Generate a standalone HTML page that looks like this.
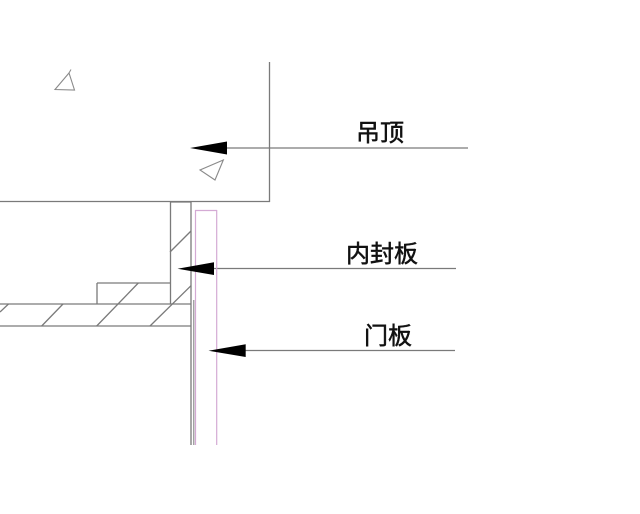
<!DOCTYPE html>
<html>
<head>
<meta charset="utf-8">
<style>
html,body{margin:0;padding:0;background:#fff;}
svg{display:block;}
text{font-family:"Liberation Sans","Noto Sans CJK SC",sans-serif;font-size:24px;fill:#111;stroke:#111;stroke-width:0.5;}
</style>
</head>
<body>
<svg width="640" height="514" viewBox="0 0 640 514" xmlns="http://www.w3.org/2000/svg">
<g stroke="#7a7a7a" stroke-width="1.3" fill="none">
  <!-- ceiling -->
  <line x1="269.5" y1="62" x2="269.5" y2="202"/>
  <line x1="0" y1="201.5" x2="270" y2="201.5"/>
  <!-- vertical box -->
  <line x1="170.5" y1="202" x2="170.5" y2="304"/>
  <line x1="170" y1="202" x2="191" y2="202"/>
  <line x1="191" y1="202" x2="191" y2="445"/>
  <line x1="193.8" y1="300" x2="193.8" y2="445" stroke-width="1"/>
  <!-- small rect -->
  <line x1="97" y1="283" x2="97" y2="304"/>
  <line x1="97" y1="283" x2="170" y2="283"/>
  <!-- slab -->
  <line x1="0" y1="304" x2="191" y2="304"/>
  <line x1="0" y1="326" x2="191" y2="326"/>
  <!-- hatches -->
  <line x1="170" y1="252" x2="191" y2="231"/>
  <line x1="0" y1="312" x2="8.5" y2="304"/>
  <line x1="41.7" y1="326" x2="63" y2="304"/>
  <line x1="96.7" y1="326" x2="138.3" y2="283"/>
  <line x1="150" y1="326" x2="191" y2="285.7"/>
  <!-- triangles -->
  <polygon points="69,73 55,89.5 74.5,90" stroke="#8a8a8a" stroke-width="1.1"/>
  <line x1="69" y1="73" x2="71" y2="69.5" stroke="#8a8a8a" stroke-width="1"/>
  <polygon points="223.3,160 200,170 215,180" stroke="#8a8a8a" stroke-width="1.1"/>
  <!-- leader lines -->
  <line x1="227" y1="148" x2="468" y2="148"/>
  <line x1="214" y1="268.5" x2="456" y2="268.5"/>
  <line x1="245" y1="350.5" x2="455" y2="350.5"/>
</g>
<!-- pink door panel -->
<g stroke="#d4aad4" stroke-width="1.2" fill="none">
  <line x1="195.5" y1="210" x2="195.5" y2="445"/>
  <line x1="195" y1="210.5" x2="217" y2="210.5"/>
  <line x1="216.7" y1="210" x2="216.7" y2="445"/>
</g>
<!-- arrowheads -->
<g fill="#000">
  <polygon points="190,148 227,141.5 227,154.5"/>
  <polygon points="177.5,268.7 214,262.3 214,275"/>
  <polygon points="208.5,350.7 245.7,344.3 245.7,357"/>
</g>
<!-- labels -->
<text x="356" y="141">吊顶</text>
<text x="346" y="262">内封板</text>
<text x="364" y="344">门板</text>
</svg>
</body>
</html>
